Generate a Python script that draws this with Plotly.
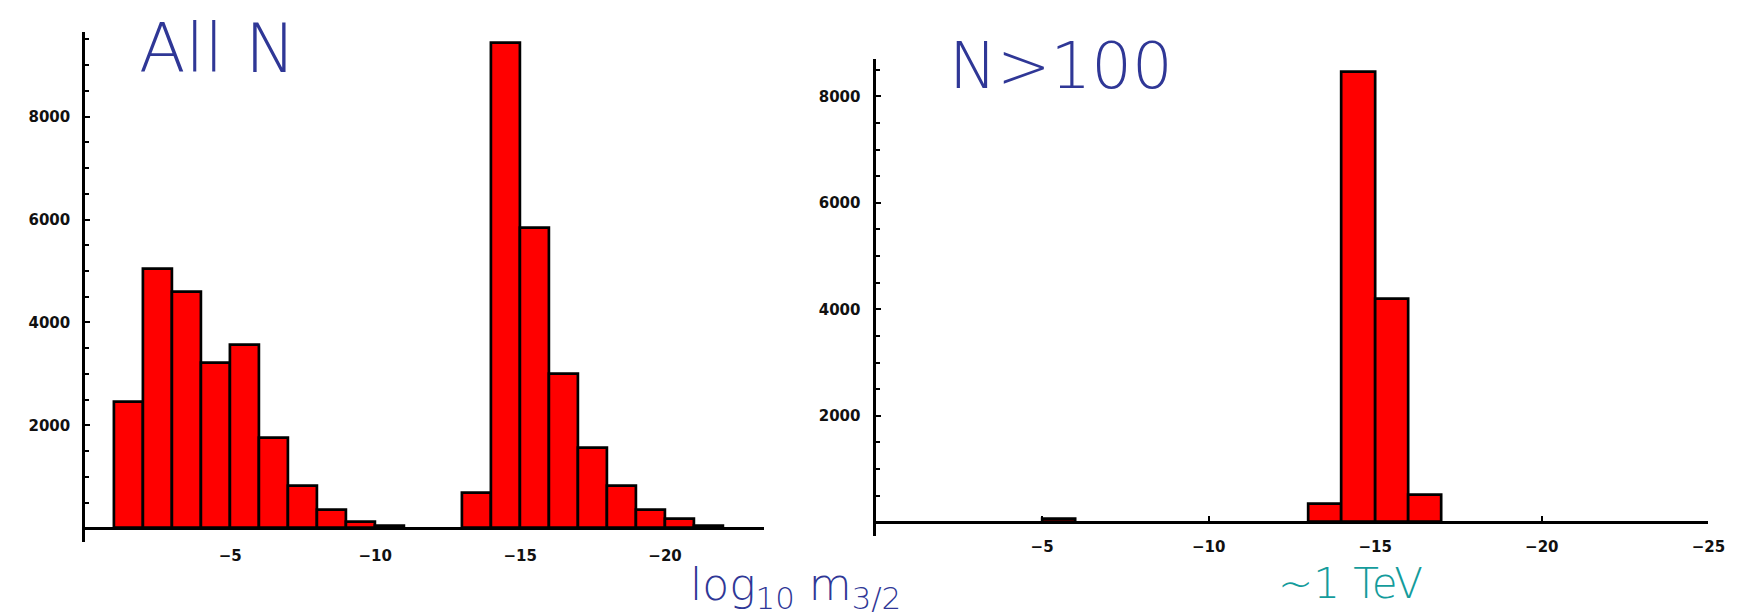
import plotly.graph_objects as go

# ---------------- data ----------------
# histogram bins of width 1; each bin given by its upper edge (bin spans edge .. edge-1)
left_bin_edges = [-1, -2, -3, -4, -5, -6, -7, -8, -9, -10,
                  -13, -14, -15, -16, -17, -18, -19, -20, -21]
left_counts = [2450, 5030, 4590, 3210, 3570, 1760, 820, 365, 125, 50,
               695, 9430, 5840, 3000, 1570, 815, 365, 190, 50]

right_bin_edges = [-5, -13, -14, -15, -16]
right_counts = [60, 350, 8450, 4200, 520]

left_xticks = [-5, -10, -15, -20]
right_xticks = [-5, -10, -15, -20, -25]
yticks = [2000, 4000, 6000, 8000]

left_title = "All N"
right_title = "N>100"
xlabel = "log<sub>10</sub> m<sub>3/2</sub>"
note = "~1 TeV"

# ---------------- layout geometry ----------------
W, H = 1755, 613
BIN_W = 1

def px_x(p):
    return p / W

def px_y(p):
    return 1 - p / H

left_xrange = [0, -23.4]
left_yrange = [-266, 9643]
right_xrange = [0, -25]
right_yrange = [-258, 8700]

left_xdom = [px_x(78), px_x(763)]
left_ydom = [px_y(534), px_y(24)]
right_xdom = [px_x(876), px_x(1717)]
right_ydom = [px_y(528), px_y(51)]


def zero_pos(ydom, yrange):
    frac = (0 - yrange[0]) / (yrange[1] - yrange[0])
    return ydom[0] + (ydom[1] - ydom[0]) * frac


bar_style = dict(color="#FF0000", line=dict(color="black", width=2.7))

fig = go.Figure()
fig.add_trace(go.Bar(
    x=[e - BIN_W / 2 for e in left_bin_edges], y=left_counts, width=BIN_W,
    marker=bar_style, xaxis="x", yaxis="y", hoverinfo="x+y"))
fig.add_trace(go.Bar(
    x=[e - BIN_W / 2 for e in right_bin_edges], y=right_counts, width=BIN_W,
    marker=bar_style, xaxis="x2", yaxis="y2", hoverinfo="x+y"))

tickfont = dict(family="DejaVu Sans", size=15, color="#111111", weight="bold")

def xaxis_cfg(dom, rng, ticks, pos, standoff):
    return dict(domain=dom, range=rng, anchor="free", position=pos,
                tickmode="array", tickvals=ticks,
                ticks="inside", ticklen=5, tickwidth=2, tickcolor="black",
                showline=True, linewidth=3, linecolor="black",
                showgrid=False, zeroline=False, tickfont=tickfont,
                ticklabelstandoff=standoff)

def yaxis_cfg(dom, rng, anchor):
    return dict(domain=dom, range=rng, anchor=anchor,
                tickmode="array", tickvals=yticks,
                ticks="inside", ticklen=5, tickwidth=2, tickcolor="black",
                minor=dict(dtick=500, tick0=0, ticks="inside", ticklen=4,
                           tickwidth=2, tickcolor="black", showgrid=False),
                showline=True, linewidth=3, linecolor="black",
                showgrid=False, zeroline=False, tickfont=tickfont,
                ticklabelstandoff=9)

hand_blue = "#2F3796"
hand_teal = "#149C9C"
hand_font = "DejaVu Sans"

fig.update_layout(
    width=W, height=H,
    margin=dict(l=0, r=0, t=0, b=0),
    paper_bgcolor="white", plot_bgcolor="white",
    showlegend=False, bargap=0,
    xaxis=xaxis_cfg(left_xdom, left_xrange, left_xticks,
                    zero_pos(left_ydom, left_yrange), 13),
    yaxis=yaxis_cfg(left_ydom, left_yrange, "x"),
    xaxis2=xaxis_cfg(right_xdom, right_xrange, right_xticks,
                     zero_pos(right_ydom, right_yrange), 10),
    yaxis2=yaxis_cfg(right_ydom, right_yrange, "x2"),
    annotations=[
        dict(text=left_title, xref="paper", yref="paper",
             x=px_x(212), y=px_y(40), showarrow=False,
             xanchor="center", yanchor="middle",
             font=dict(family=hand_font, size=68, color=hand_blue, weight=200)),
        dict(text=right_title, xref="paper", yref="paper",
             x=px_x(1063), y=px_y(58), showarrow=False,
             xanchor="center", yanchor="middle",
             font=dict(family=hand_font, size=64, color=hand_blue, weight=200)),
        dict(text=xlabel, xref="paper", yref="paper",
             x=px_x(795), y=px_y(610), showarrow=False,
             xanchor="center", yanchor="bottom",
             font=dict(family=hand_font, size=44, color=hand_blue, weight=200)),
        dict(text=note, xref="paper", yref="paper",
             x=px_x(1356), y=px_y(549), showarrow=False,
             xanchor="center", yanchor="top",
             font=dict(family=hand_font, size=42, color=hand_teal, weight=200)),
    ],
)

fig.write_html("out.html")
